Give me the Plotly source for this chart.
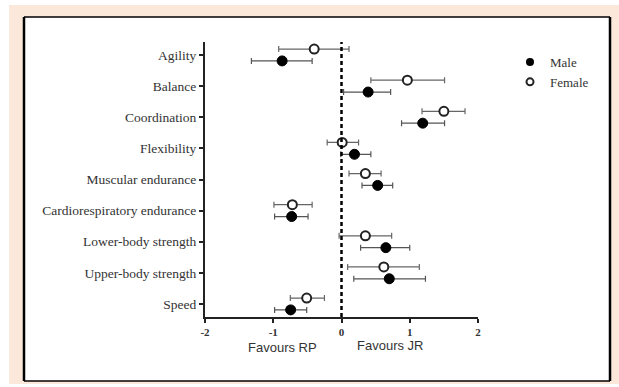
import plotly.graph_objects as go

categories = ["Agility", "Balance", "Coordination", "Flexibility", "Muscular endurance",
              "Cardiorespiratory endurance", "Lower-body strength", "Upper-body strength", "Speed"]

male_est = [-0.87, 0.39, 1.19, 0.19, 0.53, -0.73, 0.65, 0.70, -0.745]
male_lo = [-1.32, 0.03, 0.88, -0.01, 0.30, -0.98, 0.28, 0.18, -0.98]
male_hi = [-0.43, 0.72, 1.51, 0.43, 0.75, -0.49, 1.00, 1.23, -0.51]

female_est = [-0.40, 0.965, 1.50, 0.01, 0.35, -0.72, 0.35, 0.62, -0.51]
female_lo = [-0.92, 0.43, 1.18, -0.21, 0.11, -0.99, -0.035, 0.09, -0.75]
female_hi = [0.11, 1.51, 1.81, 0.25, 0.58, -0.43, 0.735, 1.14, -0.25]

x_ticks = [-2, -1, 0, 1, 2]

W, H = 619, 387
L, R, T, B = 205, 478, 42, 317  # plot area pixels


def px(x):
    return (x - L) / (R - L)


def py(y):
    return (B - y) / (B - T)


idx = list(range(len(categories)))
off = 0.19

fig = go.Figure()

fig.add_trace(go.Scatter(
    x=male_est, y=[i + off for i in idx], mode="markers", name="Male", showlegend=False,
    marker=dict(symbol="circle", size=10, color="black", line=dict(color="black", width=1)),
    error_x=dict(type="data", symmetric=False,
                 array=[h - e for h, e in zip(male_hi, male_est)],
                 arrayminus=[e - l for e, l in zip(male_est, male_lo)],
                 color="#555555", thickness=1.2, width=3),
))
fig.add_trace(go.Scatter(
    x=female_est, y=[i - off for i in idx], mode="markers", name="Female", showlegend=False,
    marker=dict(symbol="circle", size=9, color="white", line=dict(color="#222222", width=2)),
    error_x=dict(type="data", symmetric=False,
                 array=[h - e for h, e in zip(female_hi, female_est)],
                 arrayminus=[e - l for e, l in zip(female_est, female_lo)],
                 color="#666666", thickness=1.2, width=3),
))
# legend entries
fig.add_trace(go.Scatter(x=[None], y=[None], mode="markers", name="Male",
                         marker=dict(symbol="circle", size=8, color="black")))
fig.add_trace(go.Scatter(x=[None], y=[None], mode="markers", name="Female",
                         marker=dict(symbol="circle", size=7, color="white",
                                     line=dict(color="#222222", width=2))))

shapes = [
    # peach background
    dict(type="rect", xref="paper", yref="paper", layer="below",
         x0=px(9), x1=px(619), y0=py(384), y1=py(5),
         fillcolor="#FCE8DA", line=dict(width=0)),
    # white inner box
    dict(type="rect", xref="paper", yref="paper", layer="below",
         x0=px(24), x1=px(610), y0=py(381), y1=py(17),
         fillcolor="white", line=dict(width=0)),
    # borders
    dict(type="line", xref="paper", yref="paper", x0=px(24), x1=px(24), y0=py(381), y1=py(17),
         line=dict(color="black", width=2.5)),
    dict(type="line", xref="paper", yref="paper", x0=px(24), x1=px(610), y0=py(17), y1=py(17),
         line=dict(color="black", width=1.5)),
    dict(type="line", xref="paper", yref="paper", x0=px(610), x1=px(610), y0=py(381), y1=py(17),
         line=dict(color="black", width=2.5)),
    dict(type="line", xref="paper", yref="paper", x0=px(24), x1=px(610), y0=py(381), y1=py(381),
         line=dict(color="black", width=1.5)),
    # dashed zero line
    dict(type="line", xref="x", yref="paper", x0=0, x1=0, y0=0, y1=1,
         line=dict(color="black", width=2.5, dash="4px,3px")),
]

fig.update_layout(
    width=W, height=H,
    margin=dict(l=L, r=W - R, t=T, b=H - B),
    paper_bgcolor="white", plot_bgcolor="rgba(0,0,0,0)",
    shapes=shapes,
    showlegend=True,
    legend=dict(x=px(510), y=py(47), xanchor="left", yanchor="top",
                font=dict(family="Liberation Serif", size=13, color="#333333"),
                bgcolor="rgba(0,0,0,0)", tracegroupgap=0),
    xaxis=dict(range=[-2, 2], tickvals=x_ticks, ticktext=[str(v) for v in x_ticks],
               showgrid=False, zeroline=False, showline=True, linecolor="#222222", linewidth=2,
               ticks="outside", ticklen=4, tickwidth=1.5, tickcolor="#222222",
               tickfont=dict(family="Liberation Serif", size=11, color="#333333", weight="bold")),
    yaxis=dict(range=[8 + 13 / 31.1, -13 / 31.1], tickvals=idx, ticktext=categories,
               showgrid=False, zeroline=False, showline=True, linecolor="#222222", linewidth=2,
               ticks="outside", ticklen=4, tickwidth=1.5, tickcolor="#222222",
               tickfont=dict(family="Liberation Serif", size=13.5, color="#333333")),
    annotations=[
        dict(text="Favours RP", x=-0.86, xref="x", y=py(356.5), yref="paper",
             showarrow=False, font=dict(family="Liberation Sans", size=13, color="#333333")),
        dict(text="Favours JR", x=0.71, xref="x", y=py(355), yref="paper",
             showarrow=False, font=dict(family="Liberation Sans", size=13, color="#333333")),
    ],
)

fig.write_html("out.html", config={"displayModeBar": False},
               post_script="document.body.style.margin='0';document.body.style.padding='0';")
